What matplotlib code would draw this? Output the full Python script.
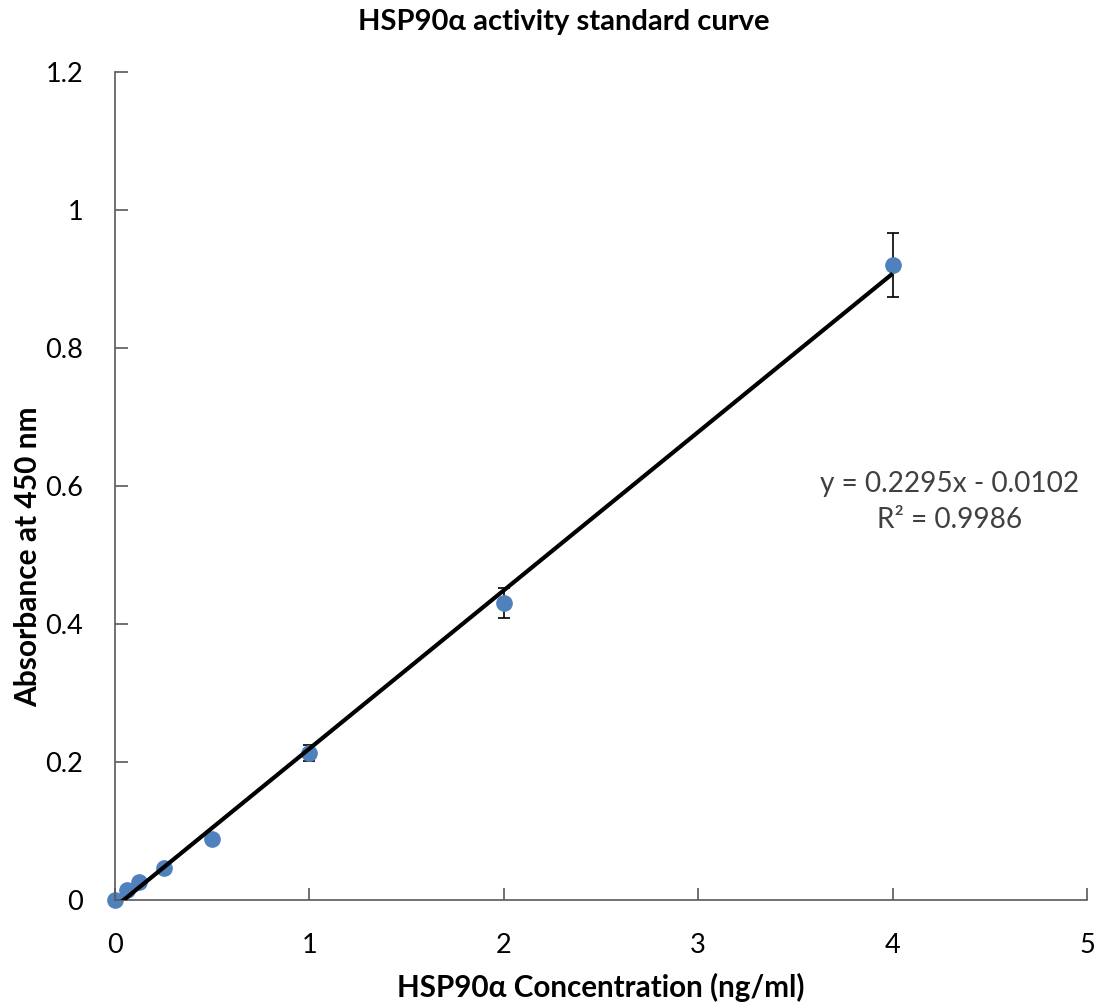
import matplotlib
matplotlib.use("Agg")
import matplotlib.pyplot as plt
import numpy as np

# standard curve data
conc = [0, 0.0625, 0.125, 0.25, 0.5, 1, 2, 4]
absorb = [0.0, 0.014, 0.026, 0.046, 0.088, 0.213, 0.430, 0.920]
err = [0, 0, 0, 0, 0, 0.012, 0.022, 0.046]
slope, intercept = 0.2295, -0.0102
r2 = 0.9986

plt.rcParams["font.family"] = ["Lato", "DejaVu Sans"]

W, H = 1109, 1008
fig = plt.figure(figsize=(W / 100, H / 100), dpi=100)
ax = fig.add_axes([115 / W, 1 - 900 / H, (1087 - 115) / W, (900 - 72) / H])

# trendline over the data range
xs = np.array([min(conc), max(conc)])
ax.plot(xs, slope * xs + intercept, color="black", lw=3, zorder=3, solid_capstyle="butt")

ax.errorbar(conc, absorb, yerr=err, fmt="none", ecolor="black", elinewidth=1.2,
            capsize=4.5, capthick=1.2, zorder=2)
ax.plot(conc, absorb, "o", color="#4F81BD", ms=11, mec="#4F81BD", zorder=2.5, clip_on=False)

ax.set_xlim(0, 5)
ax.set_ylim(0, 1.2)
ax.set_xticks(range(0, 6))
ax.set_xticklabels([str(v) for v in range(0, 6)])
yt = [0, 0.2, 0.4, 0.6, 0.8, 1.0, 1.2]
ax.set_yticks(yt)
ax.set_yticklabels(["0", "0.2", "0.4", "0.6", "0.8", "1", "1.2"])
for s in ["top", "right"]:
    ax.spines[s].set_visible(False)
for s in ["left", "bottom"]:
    ax.spines[s].set_color("#595959")
    ax.spines[s].set_linewidth(1.2)
ax.tick_params(direction="in", length=9, width=1.2, color="#595959",
               labelsize=19.5, labelcolor="black")
ax.tick_params(axis="x", pad=24)
ax.tick_params(axis="y", pad=23)

fig.text(564 / W, 1 - 22 / H, "HSP90α activity standard curve", ha="center", va="center",
         fontsize=21, fontweight="bold")
fig.text(601 / W, 1 - 987 / H, "HSP90α Concentration (ng/ml)", ha="center", va="center",
         fontsize=21.3, fontweight="bold")
fig.text(28 / W, 1 - 557 / H, "Absorbance at 450 nm", ha="center", va="center",
         rotation=90, fontsize=21.5, fontweight="bold")
ax.text(950, 506, f"y = {slope}x - {abs(intercept)}\nR² = {r2}", transform=None,
        ha="center", va="center", fontsize=20.2, color="#404040", linespacing=1.45)

fig.savefig("out.png", dpi=100, facecolor="white")
